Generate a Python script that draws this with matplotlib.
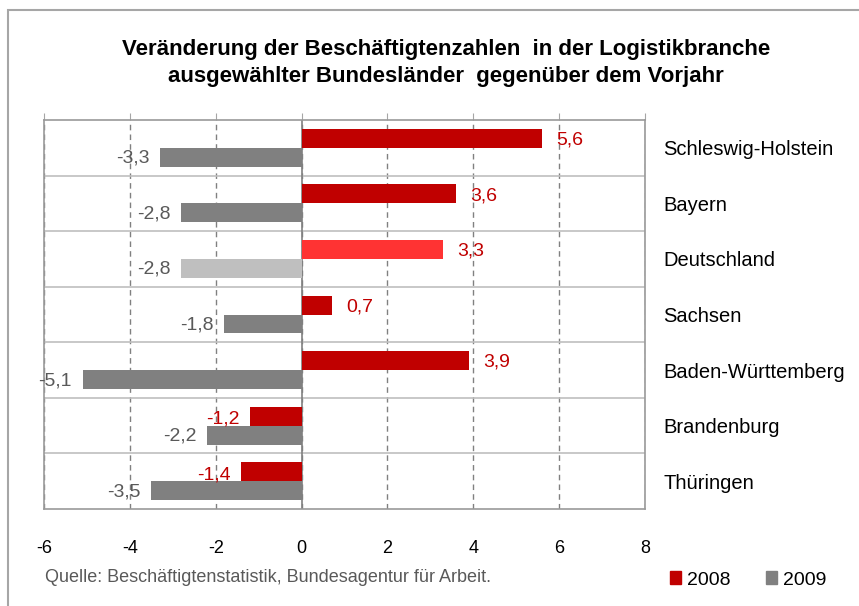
import numpy as np
import matplotlib.pyplot as plt
from matplotlib.patches import Patch, Rectangle

plt.rcParams['font.family'] = ['Liberation Sans', 'DejaVu Sans']

# data
laender = ['Schleswig-Holstein', 'Bayern', 'Deutschland', 'Sachsen',
           'Baden-Württemberg', 'Brandenburg', 'Thüringen']
werte_2008 = [5.6, 3.6, 3.3, 0.7, 3.9, -1.2, -1.4]
werte_2009 = [-3.3, -2.8, -2.8, -1.8, -5.1, -2.2, -3.5]
xticks = [-6, -4, -2, 0, 2, 4, 6, 8]

title = ('Veränderung der Beschäftigtenzahlen  in der Logistikbranche\n'
         'ausgewählter Bundesländer  gegenüber dem Vorjahr')
quelle = 'Quelle: Beschäftigtenstatistik, Bundesagentur für Arbeit.'

rot = '#C00000'
grau = '#808080'
# Deutschland is highlighted with lighter colours
farben_2008 = [rot, rot, '#FF3333', rot, rot, rot, rot]
farben_2009 = [grau, grau, '#BFBFBF', grau, grau, grau, grau]

fig = plt.figure(figsize=(8.59, 6.06), dpi=100)
ax = fig.add_axes([44/859, 1-509/606, (645-44)/859, (509-120)/606])

y = np.arange(len(laender))
h = 0.34
ax.barh(y - h/2, werte_2008, height=h, color=farben_2008, zorder=3)
ax.barh(y + h/2, werte_2009, height=h, color=farben_2009, zorder=3)

# value labels
for i, v in enumerate(werte_2008):
    s = f'{v:.1f}'.replace('.', ',')
    if v >= 0:
        ax.text(v + 0.33, i - h/2 + 0.03, s, color=rot, fontsize=14, ha='left', va='center', zorder=4)
    else:
        ax.text(v - 0.25, i - h/2 + 0.05, s, color=rot, fontsize=14, ha='right', va='center', zorder=4)
for i, v in enumerate(werte_2009):
    s = f'{v:.1f}'.replace('.', ',')
    ax.text(v - 0.25, i + h/2 + 0.02, s, color='#595959', fontsize=14, ha='right', va='center', zorder=4)

ax.set_xlim(-6, 8)
ax.set_ylim(len(laender) - 0.5, -0.5)
ax.set_xticks(xticks)
ax.set_xticklabels([str(t) for t in xticks], fontsize=13)
ax.tick_params(axis='x', top=True, bottom=False, labelbottom=True,
               direction='out', length=5, color='#A6A6A6', pad=17)

ax.yaxis.tick_right()
ax.set_yticks(y)
ax.set_yticklabels(laender, fontsize=14.5)
ax.set_yticks(y[:-1] + 0.5, minor=True)
ax.tick_params(axis='y', which='both', length=0, pad=13)

ax.grid(axis='y', which='minor', color='#BFBFBF', lw=1.2, zorder=1)
ax.grid(axis='x', which='major', color=grau, lw=1, ls=(0, (4, 3)), zorder=1)
ax.axvline(0, color=grau, lw=1.2, zorder=2)
for sp in ax.spines.values():
    sp.set_color('#9A9A9A')
    sp.set_linewidth(1.2)

fig.text(446/859, 1-63/606, title, ha='center', va='center',
         fontsize=16, fontweight='bold', linespacing=1.4)
fig.text(45/859, 1-578/606, quelle, ha='left', va='center', fontsize=13, color='#595959')

handles = [Patch(color=rot, label='2008'), Patch(color=grau, label='2009')]
fig.legend(handles=handles, loc='center left', bbox_to_anchor=(652/859, 1-580/606),
           ncol=2, frameon=False, fontsize=14, handlelength=0.6, handleheight=0.6,
           handletextpad=0.3, columnspacing=1.8)

fig.patches.append(Rectangle((8/859, -0.1), 2, 1-10/606+0.1, transform=fig.transFigure,
                             fill=False, edgecolor='#A6A6A6', lw=1.5))

fig.savefig('out.png', dpi=100)
